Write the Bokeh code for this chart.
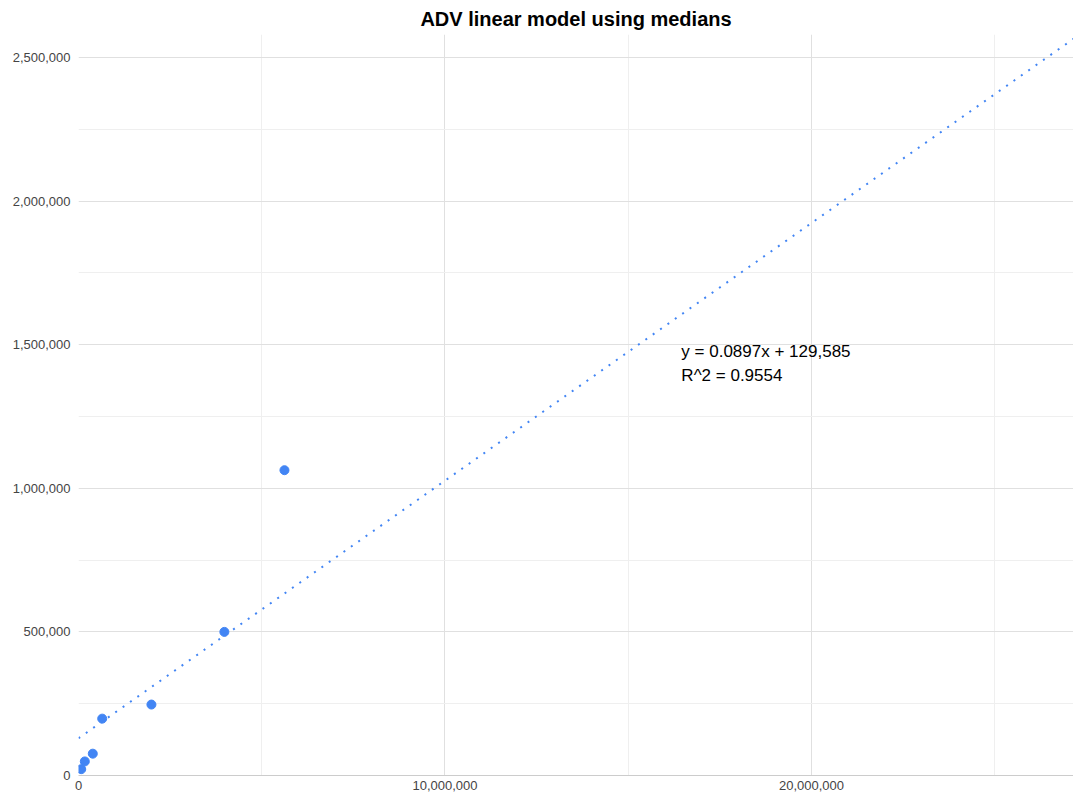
from bokeh.plotting import figure
from bokeh.models import Label, NumeralTickFormatter, FixedTicker, Range1d
from bokeh.embed import file_html
from bokeh.resources import INLINE

# Data
adv_x = [74000, 172000, 390000, 647000, 1990000, 3980000, 5620000]
adv_y = [22000, 49000, 76000, 198000, 247000, 500000, 1063000]
slope = 0.0897
intercept = 129585
r_squared = 0.9554
title_text = "ADV linear model using medians"
eq_lines = ["y = 0.0897x + 129,585", "R^2 = 0.9554"]
x_ticks = [0, 10000000, 20000000]
y_ticks = [0, 500000, 1000000, 1500000, 2000000, 2500000]
x_minor = [5000000, 15000000, 25000000]
y_minor = [250000, 750000, 1250000, 1750000, 2250000]

x_max = 27150000
y_max = 2580000

FONT = "Liberation Sans"
BLUE = "#4285f4"

p = figure(width=1073, height=799, output_backend="svg", toolbar_location=None,
           x_range=Range1d(0, x_max), y_range=Range1d(0, y_max),
           min_border_left=78, min_border_right=0, min_border_top=0, min_border_bottom=24,
           title=title_text)
p.outline_line_color = None
p.background_fill_color = "white"

p.title.align = "center"
p.title.text_font = FONT
p.title.text_font_size = "20px"
p.title.text_font_style = "bold"
p.title.text_color = "#000000"
p.title.standoff = 10

# axes
for ax in (p.xaxis[0], p.yaxis[0]):
    ax.major_label_text_font = FONT
    ax.major_label_text_font_size = "13px"
    ax.major_label_text_color = "#444444"
    ax.major_tick_line_color = None
    ax.minor_tick_line_color = None
    ax.major_tick_out = 0
    ax.major_tick_in = 0
    ax.minor_tick_out = 0
    ax.minor_tick_in = 0
    ax.formatter = NumeralTickFormatter(format="0,0")
p.xaxis.ticker = FixedTicker(ticks=x_ticks, minor_ticks=x_minor)
p.yaxis.ticker = FixedTicker(ticks=y_ticks, minor_ticks=y_minor)
p.xaxis.axis_line_color = "#cccccc"
p.yaxis.axis_line_color = None
p.xaxis.major_label_standoff = 5
p.yaxis.major_label_standoff = 8

p.xgrid.grid_line_color = "#e0e0e0"
p.ygrid.grid_line_color = "#e0e0e0"
p.xgrid.minor_grid_line_color = "#efefef"
p.ygrid.minor_grid_line_color = "#efefef"

# trendline
trend_x = [0, x_max]
trend_y = [intercept + slope * v for v in trend_x]
p.line(trend_x, trend_y, line_color=BLUE, line_width=2, line_dash="2 7")

# points
p.scatter(adv_x, adv_y, size=9, fill_color=BLUE, line_color=BLUE)

# equation labels
p.add_layout(Label(x=16450000, y=1475000, text=eq_lines[0], text_font=FONT,
                   text_font_size="17px", text_color="#000000", text_baseline="middle"))
p.add_layout(Label(x=16450000, y=1392000, text=eq_lines[1], text_font=FONT,
                   text_font_size="17px", text_color="#000000", text_baseline="middle"))

open("out.html", "w").write(file_html(p, INLINE))
